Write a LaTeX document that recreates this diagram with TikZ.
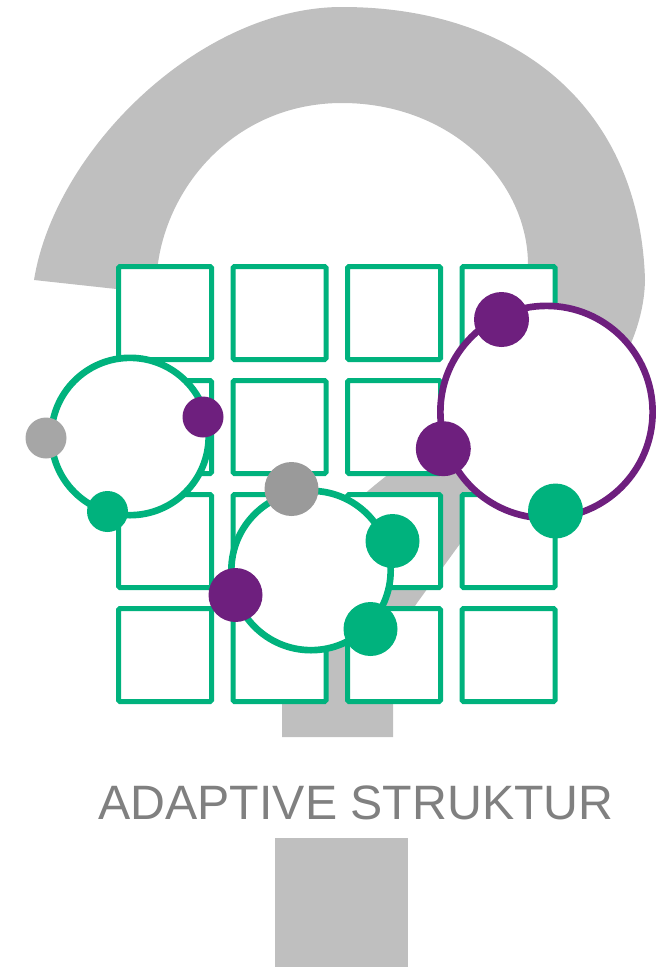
\documentclass[tikz,border=0pt]{standalone}
\usepackage{fontspec}
\newfontfamily\captionfont{Liberation Sans}
\usepackage{tikz}
\usetikzlibrary{matrix, positioning}
\definecolor{qgray}{HTML}{BFBFBF}
\definecolor{sgreen}{HTML}{00B27D}
\definecolor{spurple}{HTML}{6E1F7E}
\definecolor{lgray}{HTML}{A6A6A6}
\definecolor{mgray}{HTML}{9A9A9A}
\definecolor{tgray}{HTML}{808080}

\begin{document}
\begin{tikzpicture}[x=0.75pt, y=-0.75pt,
  cell/.style={draw=sgreen, fill=white, line width=3.75pt, rounded corners=1pt,
               minimum size=69.75pt, inner sep=0pt, outer sep=0pt},
  ring/.style={circle, draw=#1, fill=white, line width=5pt, inner sep=0pt},
  dot/.style={circle, fill=#1, inner sep=0pt}]
\useasboundingbox (0,0) rectangle (667,967);
%
% the question mark
\fill[qgray] (34,280) .. controls (55,150) and (200,7) .. (342,7)
  .. controls (520,7) and (640,110) .. (645,280)
  .. controls (643,380) and (545,460) .. (470,530)
  -- (417,603) .. controls (400,628) and (393,650) .. (393,690)
  -- (393,737) -- (282,737) -- (282,640)
  .. controls (282,575) and (330,520) .. (385,477)
  .. controls (470,400) and (528,340) .. (528,265)
  .. controls (528,180) and (450,103) .. (342,103)
  .. controls (240,103) and (170,180) .. (158,263)
  -- (153,293) -- cycle;
\fill[qgray] (275,838) rectangle (408,967);
%
\matrix (grid) [matrix of nodes, nodes in empty cells, nodes={cell},
         row sep={85.5pt,between origins},
         column sep={85.875pt,between origins}] at (336.75,484)
{
 & & & \\
 & & & \\
 & & & \\
 & & & \\
};
%
\node[ring=sgreen, minimum size=118pt] (ringL) at (130,436.5) {};
\node[ring=sgreen, minimum size=119.5pt] (ringM) at (311,570.5) {};
\node[ring=spurple, minimum size=159.2pt] (ringR) at (546.5,412) {};
%
\node[dot=lgray, minimum size=30.75pt] (l1) at (46,438) {};
\node[dot=spurple, minimum size=30.75pt] (l2) at (203,417) {};
\node[dot=sgreen, minimum size=30.75pt] (l3) at (107.5,511.5) {};
%
\node[dot=mgray, minimum size=40.5pt] (m1) at (291.5,489) {};
\node[dot=sgreen, minimum size=40.5pt] (m2) at (392.5,541) {};
\node[dot=spurple, minimum size=40.5pt] (m3) at (235.5,595) {};
\node[dot=sgreen, minimum size=40.5pt] (m4) at (370.5,629) {};
%
\node[dot=spurple, minimum size=41.25pt] (r1) at (501.5,319.5) {};
\node[dot=spurple, minimum size=41.25pt] (r2) at (443.3,448.7) {};
\node[dot=sgreen, minimum size=41.25pt] (r3) at (555.5,511) {};
%
\node[font=\captionfont\fontsize{36.2}{44}\selectfont, text=tgray, anchor=base]
  (title) at (356,819) {ADAPTIVE STRUKTUR};
\end{tikzpicture}
\end{document}
